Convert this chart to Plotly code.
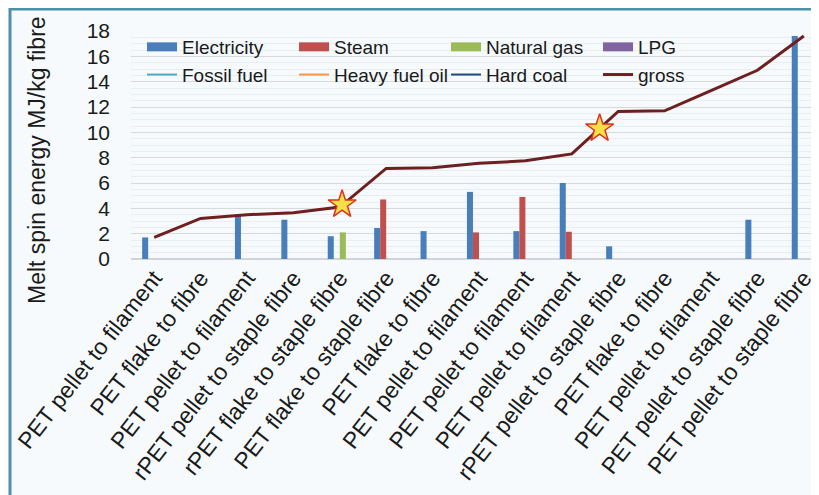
import plotly.graph_objects as go

categories = [
    "PET pellet to filament",
    "PET flake to fibre",
    "PET pellet to filament",
    "rPET pellet to staple fibre",
    "rPET flake to staple fibre",
    "PET flake to staple fibre",
    "PET flake to fibre",
    "PET pellet to filament",
    "PET pellet to filament",
    "PET pellet to filament",
    "rPET pellet to staple fibre",
    "PET flake to fibre",
    "PET pellet to filament",
    "PET pellet to staple fibre",
    "PET pellet to staple fibre",
]
positions = list(range(len(categories)))

electricity = [1.7, None, 3.5, 3.1, 1.8, 2.45, 2.2, 5.3, 2.2, 6.0, 1.0, None, None, 3.1, 17.6]
steam = [None, None, None, None, None, 4.7, None, 2.1, 4.9, 2.15, None, None, None, None, None]
natural_gas = [None, None, None, None, 2.1, None, None, None, None, None, None, None, None, None, None]
lpg = [None] * 15
fossil_fuel = [None] * 15
heavy_fuel_oil = [None] * 15
hard_coal = [None] * 15
gross = [1.7, 3.2, 3.5, 3.65, 4.1, 7.15, 7.2, 7.55, 7.75, 8.3, 11.65, 11.7, 13.3, 14.9, 17.6]

# highlighted points (yellow stars)
star_x = [4.05, 9.6]
star_y = [4.3, 10.3]

FONT = "Arial, Liberation Sans, sans-serif"
W, H = 819, 495
L, R, T, B = 123, 0, 23, 244
OFF = 8  # page body margin


def px_x(p):
    return (p - OFF - L) / (W - L - R)


def px_y(p):
    return (H - B - (p - OFF)) / (H - T - B)


fig = go.Figure()

bars = [
    ("Electricity", electricity, "#4a7ebb"),
    ("Steam", steam, "#c0504d"),
    ("Natural gas", natural_gas, "#9bbb59"),
    ("LPG", lpg, "#8064a2"),
]
for name, vals, col in bars:
    fig.add_trace(go.Bar(x=positions, y=vals, name=name, marker_color=col,
                         marker_line_width=0, showlegend=False, legendgroup=name))
# wide legend swatches like the original
for name, vals, col in bars:
    fig.add_trace(go.Scatter(x=positions, y=[None] * len(positions), name=name,
                             mode="lines", legendgroup=name,
                             line=dict(color=col, width=9)))

lines = [
    ("Fossil fuel", fossil_fuel, "#4bacc6"),
    ("Heavy fuel oil", heavy_fuel_oil, "#f79646"),
    ("Hard coal", hard_coal, "#1f497d"),
    ("gross", gross, "#6e1f1f"),
]
for name, vals, col in lines:
    fig.add_trace(go.Scatter(x=positions, y=vals, name=name, mode="lines",
                             line=dict(color=col, width=3 if name == "gross" else 2)))

fig.add_trace(go.Scatter(
    x=star_x, y=star_y, mode="markers", showlegend=False,
    marker=dict(symbol="star", size=21, color="#f6e04a",
                line=dict(color="#e0301e", width=1.5)),
))

# outer frame (bottom edge falls outside the picture)
fig.add_shape(type="rect", xref="paper", yref="paper",
              x0=px_x(10), x1=px_x(815), y0=px_y(520), y1=px_y(9),
              line=dict(color="#4f8fa8", width=3), fillcolor="#f6fafc", layer="below")

fig.add_annotation(
    text="Melt spin energy MJ/kg fibre", xref="paper", yref="paper",
    x=px_x(37), y=px_y(160), xanchor="center", yanchor="middle",
    textangle=-90, showarrow=False,
    font=dict(family=FONT, size=23, color="#1a1a1a"),
)

fig.update_layout(
    width=W,
    height=H,
    margin=dict(l=L, r=R, t=T, b=B),
    paper_bgcolor="white",
    plot_bgcolor="rgba(0,0,0,0)",
    barmode="group",
    bargap=0.48,
    bargroupgap=0,
    font=dict(family=FONT, color="#1a1a1a"),
    showlegend=True,
    legend=dict(
        orientation="h", x=px_x(142), y=px_y(28), xanchor="left", yanchor="top",
        font=dict(family=FONT, size=19, color="#1a1a1a"),
        bgcolor="rgba(0,0,0,0)", entrywidth=107, entrywidthmode="pixels",
        traceorder="normal",
    ),
    xaxis=dict(
        range=[-0.5, 14.5],
        tickmode="array", tickvals=positions, ticktext=categories,
        tickangle=-52, tickfont=dict(family=FONT, size=23, color="#1a1a1a"),
        showgrid=False, zeroline=False, showline=False, ticks="",
    ),
    yaxis=dict(
        range=[0, 18], dtick=2, tickfont=dict(family=FONT, size=21, color="#1a1a1a"),
        ticklabelstandoff=20,
        showgrid=True, gridcolor="#d6dadd", gridwidth=1,
        minor=dict(dtick=0.5, showgrid=True, gridcolor="#e9eef1"),
        zeroline=True, zerolinecolor="#d0d4d8", showline=False, ticks="",
    ),
)

fig.write_html("out.html")
